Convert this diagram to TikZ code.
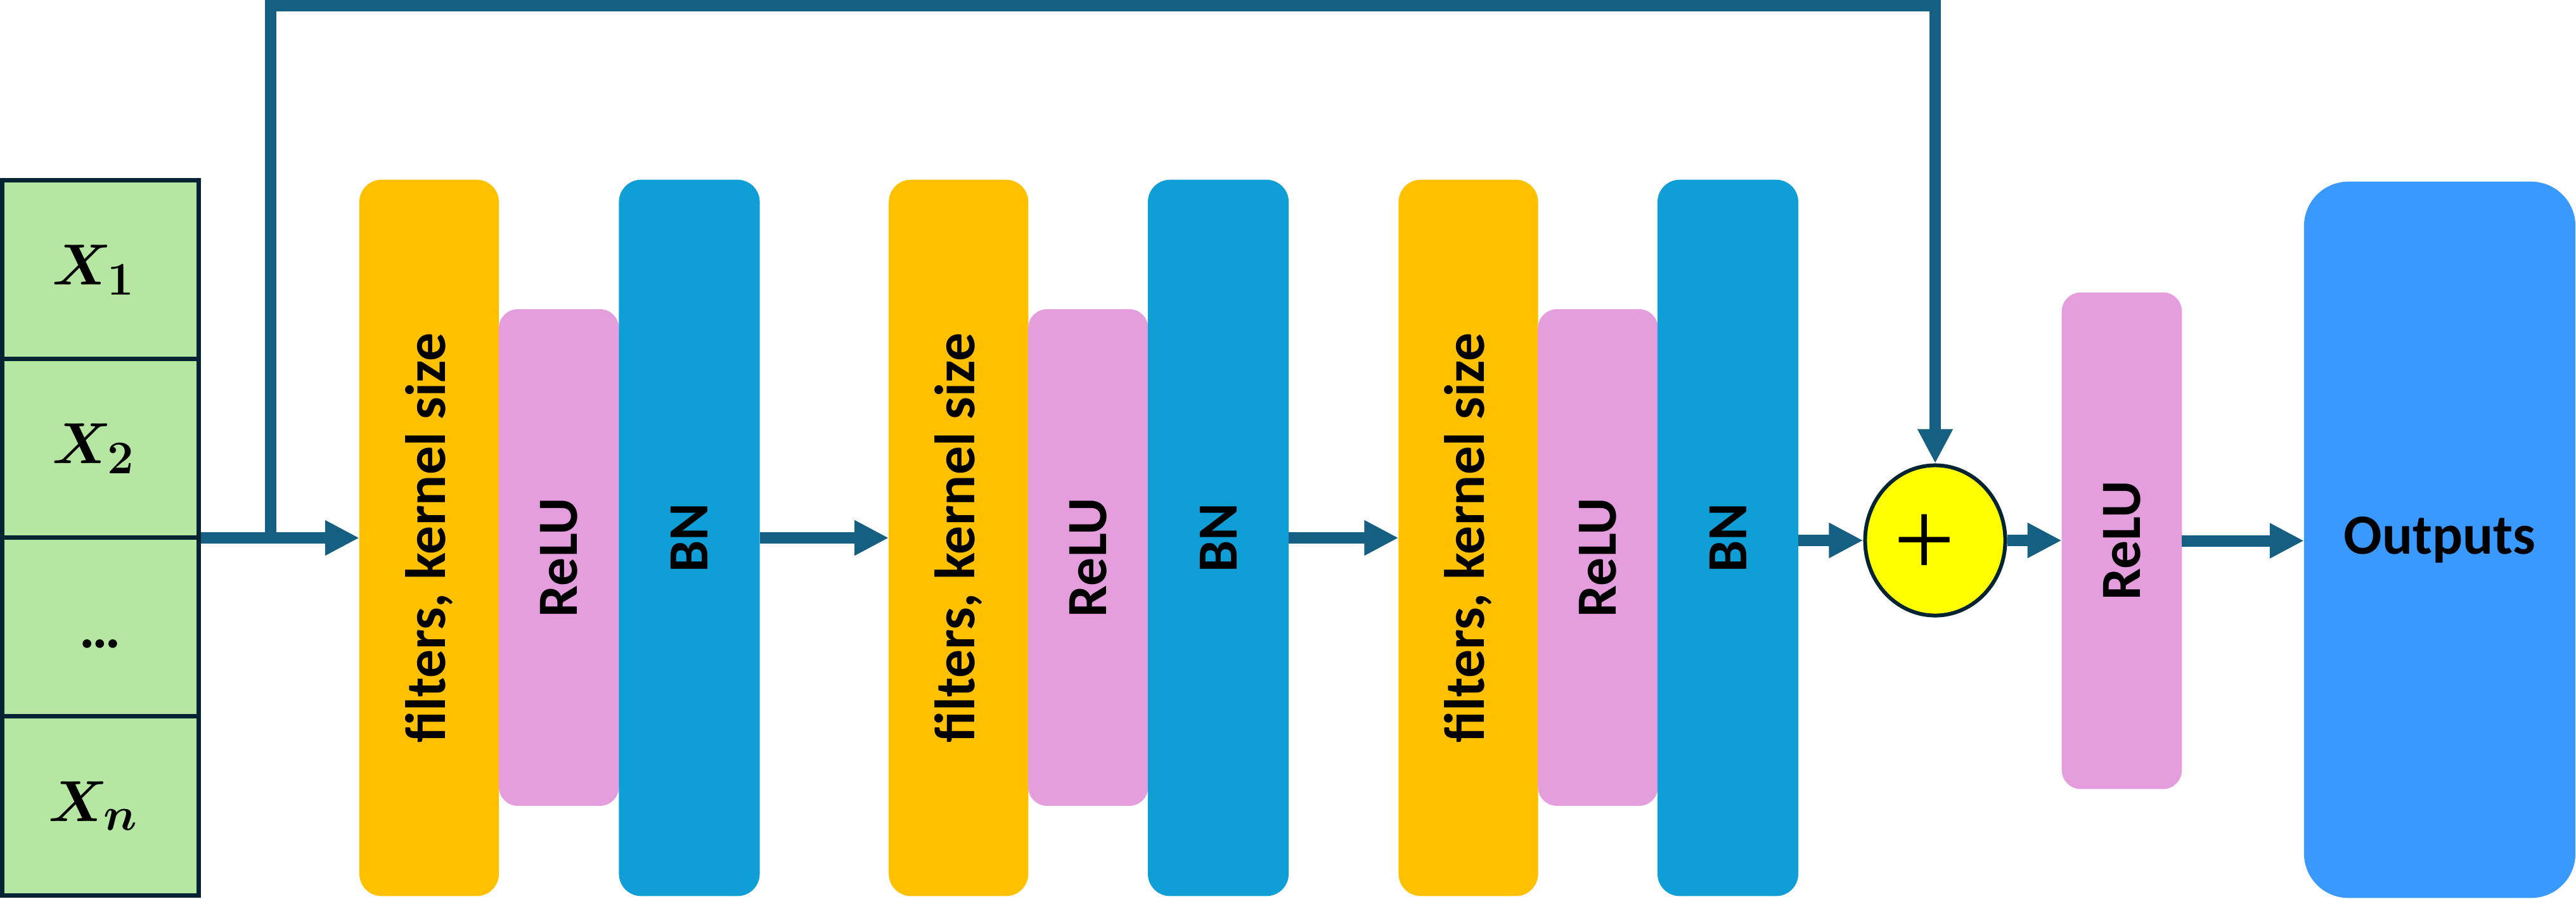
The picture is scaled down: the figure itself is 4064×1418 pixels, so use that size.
\RequirePackage{fix-cm}
\documentclass[tikz,border=0pt]{standalone}
\usepackage[no-math]{fontspec}
\setmainfont{Carlito}
\newfontfamily\plusfont{Liberation Serif}
\usepackage{bm}
\usepackage{graphicx}
\usetikzlibrary{arrows.meta,shapes.geometric}
\definecolor{arrowc}{HTML}{156082}
\definecolor{yel}{HTML}{FFC000}
\definecolor{pinkc}{HTML}{E49EDD}
\definecolor{bluec}{HTML}{0F9ED5}
\definecolor{outc}{HTML}{3A99FE}
\definecolor{greenc}{HTML}{B5E6A2}
\definecolor{navy}{HTML}{042433}
\definecolor{addc}{HTML}{FFFF00}
\newcommand{\subsz}[1]{\mbox{\fontsize{21pt}{21pt}\selectfont$\bm{#1}$}}
\begin{document}
\begin{tikzpicture}[x=0.01cm,y=-0.01cm,
  lbl/.style={font=\fontsize{25.5pt}{30pt}\selectfont\bfseries},
  block/.style={rounded corners=0.35cm, inner sep=0pt, outer sep=0pt, lbl},
  conv/.style={block, fill=yel, minimum width=2.2cm, minimum height=11.3cm},
  relu/.style={block, fill=pinkc, rounded corners=0.3cm, minimum width=1.895cm, minimum height=7.835cm},
  bn/.style={block, fill=bluec, minimum width=2.22cm, minimum height=11.3cm},
  cell/.style={draw=navy, line width=0.07cm, fill=greenc, minimum width=3.1cm, minimum height=2.82cm, inner sep=0pt, font=\fontsize{26pt}{30pt}\selectfont},
  flow/.style={draw=arrowc, line width=0.18cm, -{Triangle[length=0.54cm,width=0.52cm]}},
]
\useasboundingbox (0,0) rectangle (4064,1418);

% input column
\node[cell] (x1) at (158.5,426) {$\bm{X}_{\subsz{1}}$\kern0.22cm};
\node[cell] (x2) at (158.5,708) {$\bm{X}_{\subsz{2}}$\kern0.22cm};
\node[cell] (xd) at (158.5,990) {\rule{0pt}{0.66cm}\bfseries …};
\node[cell] (xn) at (158.5,1272) {$\bm{X}_{\subsz{n}}$\kern0.22cm};

% blocks
\node[conv] (y1) at (677,849)    {\rotatebox{90}{filters, kernel size}};
\node[relu] (r1) at (881.75,880) {\rotatebox{90}{ReLU}};
\node[bn]   (b1) at (1087.5,849) {\rotatebox{90}{BN}};

\node[conv] (y2) at (1512.25,849) {\rotatebox{90}{filters, kernel size}};
\node[relu] (r2) at (1716.75,880) {\rotatebox{90}{ReLU}};
\node[bn]   (b2) at (1922,849)    {\rotatebox{90}{BN}};

\node[conv] (y3) at (2316.5,849) {\rotatebox{90}{filters, kernel size}};
\node[relu] (r3) at (2521,880)   {\rotatebox{90}{ReLU}};
\node[bn]   (b3) at (2726,849)   {\rotatebox{90}{BN}};

\node[ellipse, draw=navy, fill=addc, line width=0.06cm, minimum width=2.21cm, minimum height=2.37cm, inner sep=0pt] (add) at (3053,853) {};
\node[inner sep=0pt, font=\plusfont\fontsize{49pt}{49pt}\selectfont] (plus) at (3036,861) {+};

\node[relu] (r4) at (3347.5,853.5) {\rotatebox{90}{ReLU}};
\node[block, fill=outc, rounded corners=0.7cm, minimum width=4.28cm, minimum height=11.3cm] (out) at (3849,852) {Outputs};

% connectors
\coordinate (split) at (427,849);
\coordinate (topl) at (427,9);
\draw[flow] (x2.east |- split) -- (y1.west |- split);
\draw[flow] (split) -- (topl) -- (add.north |- topl) -- (add.north);
\draw[flow] (b1.east) -- (y2.west);
\draw[flow] (b2.east) -- (y3.west);
\draw[flow] (b3.east |- add.west) -- (add.west);
\draw[flow] (add.east) -- (r4.west |- add.east);
\draw[flow] (r4.east) -- (out.west |- r4.east);
\end{tikzpicture}
\end{document}
